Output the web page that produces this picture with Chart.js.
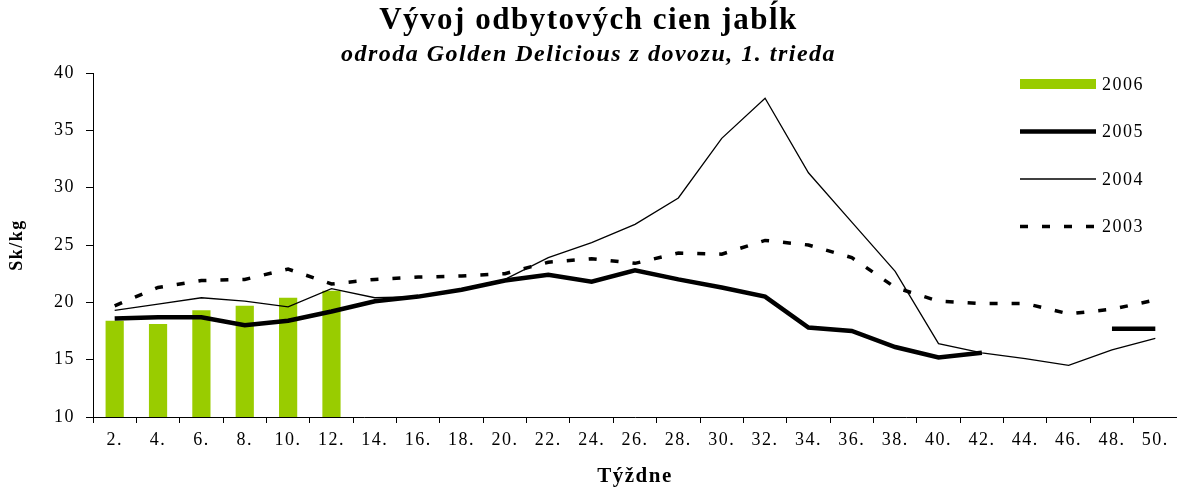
<!DOCTYPE html>
<html>
<head>
<meta charset="utf-8">
<script src="https://cdn.jsdelivr.net/npm/chart.js@4"></script>
<style>
  html, body { margin: 0; padding: 0; background: #fff; }
  #wrap { width: 1177px; height: 489px; }
</style>
</head>
<body>
<div id="wrap"><canvas id="myChart"></canvas></div>
<script>
// weeks on the x axis
const weeks = ["2.", "4.", "6.", "8.", "10.", "12.", "14.", "16.", "18.", "20.", "22.", "24.", "26.",
  "28.", "30.", "32.", "34.", "36.", "38.", "40.", "42.", "44.", "46.", "48.", "50."];

// prices in Sk/kg
const prices2006 = [18.4, 18.1, 19.3, 19.7, 20.4, 21.0, null, null, null, null, null, null, null,
  null, null, null, null, null, null, null, null, null, null, null, null];
const prices2005 = [18.6, 18.7, 18.7, 18.0, 18.4, 19.2, 20.1, 20.5, 21.1, 21.9, 22.4, 21.8, 22.8,
  22.0, 21.3, 20.5, 17.8, 17.5, 16.1, 15.2, 15.6, null, null, 17.7, 17.7];
const prices2004 = [19.3, 19.85, 20.4, 20.1, 19.6, 21.2, 20.4, 20.5, 21.1, 22.0, 23.9, 25.2, 26.8,
  29.1, 34.3, 37.8, 31.3, 27.0, 22.7, 16.4, 15.6, 15.1, 14.5, 15.85, 16.85];
const prices2003 = [19.7, 21.3, 21.9, 22.0, 22.9, 21.6, 22.0, 22.2, 22.3, 22.5, 23.5, 23.8, 23.4,
  24.3, 24.2, 25.4, 25.0, 23.9, 21.3, 20.1, 19.9, 19.9, 19.0, 19.4, 20.2];

// y axis range
const yMin = 10;
const yMax = 40;
const yStep = 5;

const serif = "'Liberation Serif', 'Times New Roman', serif";

// wider letters, the original is stretched sideways
const spacing = {
  id: "spacing",
  beforeLayout(chart) { chart.ctx.letterSpacing = "1.5px"; },
  beforeDraw(chart) { chart.ctx.letterSpacing = "1.5px"; }
};

// legend stacked in the top right corner of the plot
const sideLegend = {
  id: "sideLegend",
  afterDraw(chart) {
    const ctx = chart.ctx;
    const area = chart.chartArea;
    const x0 = area.right - 157;
    const x1 = area.right - 81;
    ctx.save();
    ctx.letterSpacing = "1.5px";
    chart.data.datasets.forEach((ds, i) => {
      const y = area.top + 11 + i * 47.5;
      if (ds.type === "line") {
        ctx.strokeStyle = ds.borderColor;
        ctx.lineWidth = ds.borderWidth;
        ctx.setLineDash(ds.borderDash || []);
        ctx.beginPath();
        ctx.moveTo(x0, y);
        ctx.lineTo(x1, y);
        ctx.stroke();
        ctx.setLineDash([]);
      } else {
        ctx.fillStyle = ds.backgroundColor;
        ctx.fillRect(x0, y - 5, x1 - x0, 10);
      }
      ctx.fillStyle = "#000";
      ctx.font = "18px " + serif;
      ctx.textBaseline = "middle";
      ctx.fillText(ds.label, x1 + 6, y + 1);
    });
    ctx.restore();
  }
};

const ctx = document.getElementById("myChart").getContext("2d");
const myChart = new Chart(ctx, {
  type: "bar",
  data: {
    labels: weeks,
    datasets: [
      {
        label: "2006",
        data: prices2006,
        backgroundColor: "#99cc00",
        categoryPercentage: 0.42,
        barPercentage: 1,
        order: 4
      },
      {
        type: "line",
        label: "2005",
        data: prices2005,
        borderColor: "#000",
        borderWidth: 4.5,
        pointRadius: 0,
        spanGaps: false,
        order: 1
      },
      {
        type: "line",
        label: "2004",
        data: prices2004,
        borderColor: "#000",
        borderWidth: 1.3,
        pointRadius: 0,
        order: 2
      },
      {
        type: "line",
        label: "2003",
        data: prices2003,
        borderColor: "#000",
        borderWidth: 3.5,
        borderDash: [8, 14],
        pointRadius: 0,
        order: 3
      }
    ]
  },
  options: {
    responsive: true,
    maintainAspectRatio: false,
    animation: false,
    layout: { padding: 0 },
    plugins: {
      legend: { display: false },
      tooltip: { enabled: false },
      title: {
        display: true,
        text: "Vývoj odbytových cien jabĺk",
        color: "#000",
        font: { family: serif, size: 31, weight: "bold" },
        padding: { top: 2.4, bottom: 0 }
      },
      subtitle: {
        display: true,
        text: "odroda Golden Delicious z dovozu, 1. trieda",
        color: "#000",
        font: { family: serif, size: 24, weight: "bold", style: "italic" },
        padding: { top: 1, bottom: 3.6 }
      }
    },
    scales: {
      x: {
        grid: {
          display: true,
          drawOnChartArea: false,
          drawTicks: true,
          tickLength: 6,
          color: "#000",
          offset: true
        },
        border: { display: true, color: "#000", width: 1 },
        ticks: {
          color: "#000",
          font: { family: serif, size: 18 },
          padding: 6,
          maxRotation: 0,
          autoSkip: false
        },
        title: {
          display: true,
          text: "Týždne",
          color: "#000",
          font: { family: serif, size: 21, weight: "bold" },
          padding: 0
        },
        afterFit(scale) { scale.height = 72; }
      },
      y: {
        min: yMin,
        max: yMax,
        grid: {
          display: true,
          drawOnChartArea: false,
          drawTicks: true,
          tickLength: 7,
          color: "#000"
        },
        border: { display: true, color: "#000", width: 1 },
        ticks: {
          stepSize: yStep,
          color: "#000",
          font: { family: serif, size: 18 },
          padding: 11
        },
        title: {
          display: true,
          text: "Sk/kg",
          color: "#000",
          font: { family: serif, size: 18, weight: "bold" },
          padding: { top: 7, bottom: 0 }
        },
        afterFit(scale) { scale.width = 93; }
      }
    }
  },
  plugins: [spacing, sideLegend]
});
</script>
</body>
</html>
